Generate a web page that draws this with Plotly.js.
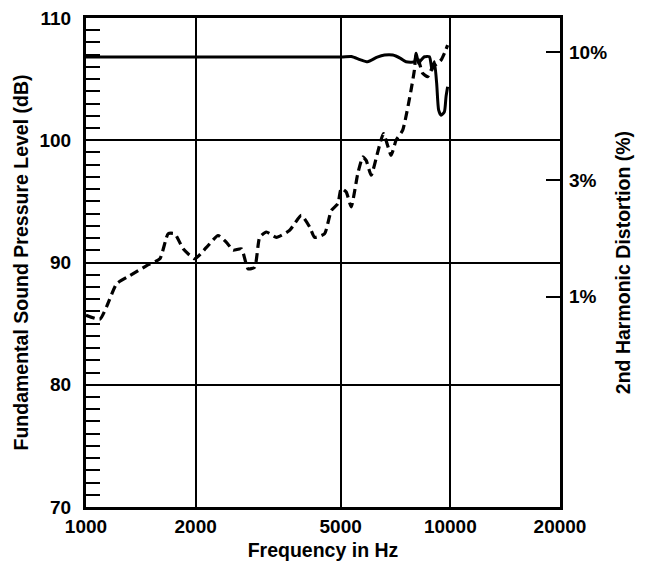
<!DOCTYPE html>
<html>
<head>
<meta charset="utf-8">
<script src="https://cdn.plot.ly/plotly-3.0.1.min.js"></script>
<style>html,body{margin:0;padding:0;background:#fff;}#chart{width:648px;height:561px;}</style>
</head>
<body>
<div id="chart"></div>
<script>
// Fundamental sound pressure level (dB) vs frequency (Hz)
var fundFreq = [1000, 5000, 5350, 5650, 5925, 6300, 6600, 6950, 7300, 7559, 7968, 8054, 8188, 8313, 8488, 8760, 8911, 9042, 9173, 9290, 9431, 9630, 9731, 9831];
var fundDb   = [106.8, 106.8, 106.85, 106.6, 106.42, 106.8, 106.97, 106.97, 106.7, 106.42, 106.42, 107.11, 106.29, 106.56, 106.83, 106.83, 105.74, 106.42, 104.65, 102.46, 102.05, 102.32, 103.55, 104.37];

// 2nd harmonic distortion (%) vs frequency (Hz)
var distFreq = [1000, 1092, 1139, 1214, 1320, 1467, 1595, 1681, 1753, 1848, 1989, 2141, 2304, 2429, 2533, 2671, 2785, 2904, 2997, 3127, 3331, 3622, 3899, 4110, 4242, 4517, 4712, 4912, 5018, 5179, 5345, 5572, 5752, 5875, 6064, 6322, 6553, 6878, 7099, 7401, 7802, 7968, 8054, 8226, 8397, 8666, 8944, 9231, 9431, 9630, 9831];
var distPct  = [0.84, 0.81, 0.91, 1.13, 1.22, 1.34, 1.43, 1.81, 1.81, 1.57, 1.43, 1.59, 1.78, 1.67, 1.55, 1.57, 1.30, 1.32, 1.75, 1.84, 1.75, 1.87, 2.15, 1.93, 1.75, 1.81, 2.25, 2.40, 2.77, 2.68, 2.33, 3.19, 3.73, 3.61, 3.14, 3.91, 4.65, 3.79, 4.37, 4.80, 7.00, 8.45, 9.74, 9.01, 8.20, 7.94, 8.72, 9.01, 9.29, 9.90, 10.70];

// Axis ticks
var xTickVals = [1000, 2000, 5000, 10000, 20000];
var xTickText = ['1000', '2000', '5000', '10000', '20000'];
var yTickVals = [70, 80, 90, 100, 110];
var y2TickVals = [1, 3, 10];
var y2TickText = ['1%', '3%', '10%'];

var FONT = 'Liberation Sans, Arial, Helvetica, sans-serif';
var tickFont = {family: FONT, size: 19, color: '#000', weight: 'bold'};
var titleFont = {family: FONT, size: 19.5, color: '#000', weight: 'bold'};

var traces = [
  {x: fundFreq, y: fundDb, type: 'scatter', mode: 'lines', yaxis: 'y',
   line: {color: '#000', width: 3, shape: 'spline', smoothing: 0.6}, showlegend: false, hoverinfo: 'skip'},
  {x: distFreq, y: distPct, type: 'scatter', mode: 'lines', yaxis: 'y2',
   line: {color: '#000', width: 3.2, dash: '9px,5px', shape: 'spline', smoothing: 0.5}, showlegend: false, hoverinfo: 'skip'}
];

var layout = {
  width: 648, height: 561,
  margin: {l: 86, r: 88, t: 18, b: 54, pad: 0},
  paper_bgcolor: '#fff', plot_bgcolor: '#fff',
  showlegend: false,
  xaxis: {
    type: 'log', range: [Math.log10(1000), Math.log10(20000)],
    tickmode: 'array', tickvals: xTickVals, ticktext: xTickText,
    ticks: '', tickfont: tickFont, ticklabelstandoff: 0,
    showgrid: true, gridcolor: '#000', gridwidth: 2,
    showline: true, linecolor: '#000', linewidth: 3, mirror: true,
    zeroline: false,
    title: {text: 'Frequency in Hz', font: titleFont, standoff: 18}
  },
  yaxis: {
    range: [70, 110],
    tickmode: 'array', tickvals: yTickVals,
    ticks: 'inside', ticklen: 14, tickwidth: 2, tickcolor: '#000',
    minor: {dtick: 1, ticks: 'inside', ticklen: 14, tickwidth: 2, tickcolor: '#000', showgrid: false},
    tickfont: tickFont, ticklabelstandoff: 8,
    showgrid: true, gridcolor: '#000', gridwidth: 2,
    showline: true, linecolor: '#000', linewidth: 3, mirror: true,
    zeroline: false,
    title: {text: 'Fundamental Sound Pressure Level (dB)', font: titleFont, standoff: 6}
  },
  yaxis2: {
    overlaying: 'y', side: 'right', type: 'log',
    range: [(70 - 87.2) / 20, (110 - 87.2) / 20],
    tickmode: 'array', tickvals: y2TickVals, ticktext: y2TickText,
    ticks: 'inside', ticklen: 14, tickwidth: 2, tickcolor: '#000',
    tickfont: tickFont, ticklabelstandoff: 8,
    showgrid: false, showline: false, zeroline: false,
    title: {text: '2nd Harmonic Distortion (%)', font: titleFont, standoff: 10}
  }
};

Plotly.newPlot('chart', traces, layout, {staticPlot: true, displayModeBar: false});
</script>
</body>
</html>
